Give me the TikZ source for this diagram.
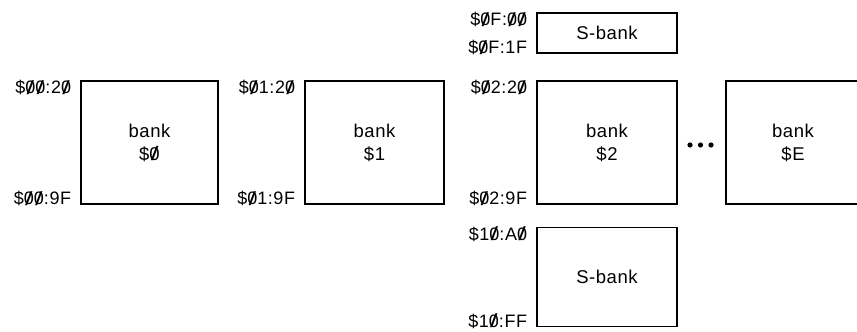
\documentclass[tikz,border=0pt]{standalone}
\usepackage{graphicx}
\usepackage{fontspec}
\setmainfont[LetterSpace=3]{Liberation Sans}
\usepackage{tikz}
\usetikzlibrary{positioning}

% zero with a slash through it
\newcommand{\zs}{\ooalign{0\cr\hidewidth\raisebox{-0.03em}{\scalebox{1.5}[1.06]{/}}\hidewidth\cr}}

\begin{document}
\begin{tikzpicture}[x=1pt, y=-1pt,
        bankbox/.style={rectangle, draw, line width=1.5pt, inner sep=0pt, align=center, font=\fontsize{18.5}{23}\selectfont},
        addrtop/.style={left=9pt, anchor=north east, inner sep=0pt, font=\fontsize{18}{20}\selectfont},
        addrbot/.style={left=9pt, anchor=base east, inner sep=0pt, font=\fontsize{18}{20}\selectfont},
        dot/.style={circle, fill, inner sep=0pt, minimum size=5.2pt},
    ]
        \useasboundingbox (0,0) rectangle (857,332);

        % Bank 0
        \node[bankbox, minimum width=137, minimum height=123] (b0) at (149.5,142.5) {bank\\\$\zs};
        \node[addrtop] at (b0.north west) {\$\zs\zs:2\zs};
        \node[addrbot] at (b0.south west) {\$\zs\zs:9F};

        % Bank 1
        \node[bankbox, minimum width=139, minimum height=123] (b1) at (374.5,142.5) {bank\\\$1};
        \node[addrtop] at (b1.north west) {\$\zs1:2\zs};
        \node[addrbot] at (b1.south west) {\$\zs1:9F};

        % Bank 2
        \node[bankbox, minimum width=140, minimum height=123] (b2) at (607,142.5) {bank\\\$2};
        \node[addrtop] at (b2.north west) {\$\zs2:2\zs};
        \node[addrbot] at (b2.south west) {\$\zs2:9F};

        % S-bank above
        \node[bankbox, minimum width=140, minimum height=40] (stop) at (607,33) {S-bank};
        \node[addrtop] at (stop.north west) {\$\zs F:\zs\zs};
        \node[addrbot] at (stop.south west) {\$\zs F:1F};

        % S-bank below
        \node[bankbox, minimum width=140, minimum height=99] (sbot) at (607,277) {S-bank};
        \node[addrtop] at (sbot.north west) {\$1\zs:A\zs};
        \node[addrbot] at (sbot.south west) {\$1\zs:FF};

        % Dots
        \foreach \i/\x in {1/690, 2/700.5, 3/711}
            \node[dot] (dot\i) at (\x,145) {};

        % Bank E
        \node[bankbox, minimum width=134, minimum height=123] (be) at (793,142.5) {bank\\\$E};
    \end{tikzpicture}
\end{document}
